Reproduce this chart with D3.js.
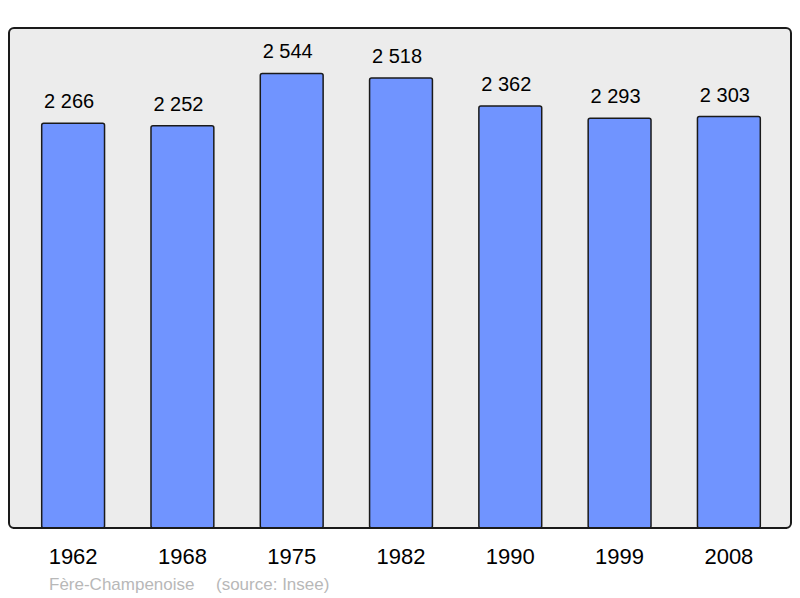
<!DOCTYPE html>
<html>
<head>
<meta charset="utf-8">
<script src="https://cdn.jsdelivr.net/npm/d3@7"></script>
<style>
  body { margin: 0; background: #fff; }
  text { font-family: "Liberation Sans", Arial, sans-serif; }
</style>
</head>
<body>
<div id="chart"></div>
<script>
// population data
const years = ["1962", "1968", "1975", "1982", "1990", "1999", "2008"];
const population = [2266, 2252, 2544, 2518, 2362, 2293, 2303];
const commune = "Fère-Champenoise";
const source = "(source: Insee)";

const width = 800, height = 598;
const panel = {left: 9, top: 28, right: 791, bottom: 528};

const svg = d3.select("#chart")
    .append("svg")
    .attr("width", width)
    .attr("height", height);

// background panel
svg.append("rect")
    .attr("x", panel.left)
    .attr("y", panel.top)
    .attr("width", panel.right - panel.left)
    .attr("height", panel.bottom - panel.top)
    .attr("rx", 5)
    .attr("fill", "#ececec")
    .attr("stroke", "#1a1a1a")
    .attr("stroke-width", 2);

const x = d3.scaleBand()
    .domain(years)
    .range([panel.left + 1, panel.right + 1])
    .paddingInner(0.425)
    .paddingOuter(0.29);

const y = d3.scaleLinear()
    .domain([0, d3.max(population) * 1.1])
    .range([panel.bottom, panel.top]);

const data = years.map((yr, i) => ({year: yr, value: population[i]}));
const fmt = v => d3.format(",")(v).replace(",", " ");

svg.selectAll(".bar")
    .data(data)
    .join("rect")
    .attr("class", "bar")
    .attr("x", d => x(d.year))
    .attr("y", d => y(d.value))
    .attr("width", x.bandwidth())
    .attr("height", d => y(0) - y(d.value))
    .attr("rx", 2)
    .attr("fill", "#7094ff")
    .attr("stroke", "#1a1a1a")
    .attr("stroke-width", 1.5);

// redraw panel bottom line over the bars
svg.append("line")
    .attr("x1", panel.left + 4)
    .attr("x2", panel.right - 4)
    .attr("y1", panel.bottom)
    .attr("y2", panel.bottom)
    .attr("stroke", "#1a1a1a")
    .attr("stroke-width", 2);

// value labels sit a little left of the bar centre
svg.selectAll(".val")
    .data(data)
    .join("text")
    .attr("class", "val")
    .attr("x", d => x(d.year) + x.bandwidth() / 2 - 4)
    .attr("y", d => y(d.value) - 15)
    .attr("text-anchor", "middle")
    .attr("font-size", 20)
    .attr("fill", "#000")
    .text(d => fmt(d.value));

// year labels
svg.append("g")
    .attr("transform", `translate(0, ${panel.bottom})`)
    .call(d3.axisBottom(x).tickSize(0).tickPadding(0))
    .call(g => g.select(".domain").remove())
    .selectAll("text")
    .attr("dy", null)
    .attr("y", 36)
    .attr("font-size", 22)
    .attr("font-family", "Liberation Sans, Arial, sans-serif")
    .attr("fill", "#000");

svg.append("text")
    .attr("x", 49)
    .attr("y", 590)
    .attr("font-size", 17)
    .attr("fill", "#b8b8b8")
    .text(commune);

svg.append("text")
    .attr("x", 216)
    .attr("y", 590)
    .attr("font-size", 17)
    .attr("fill", "#b8b8b8")
    .text(source);
</script>
</body>
</html>
